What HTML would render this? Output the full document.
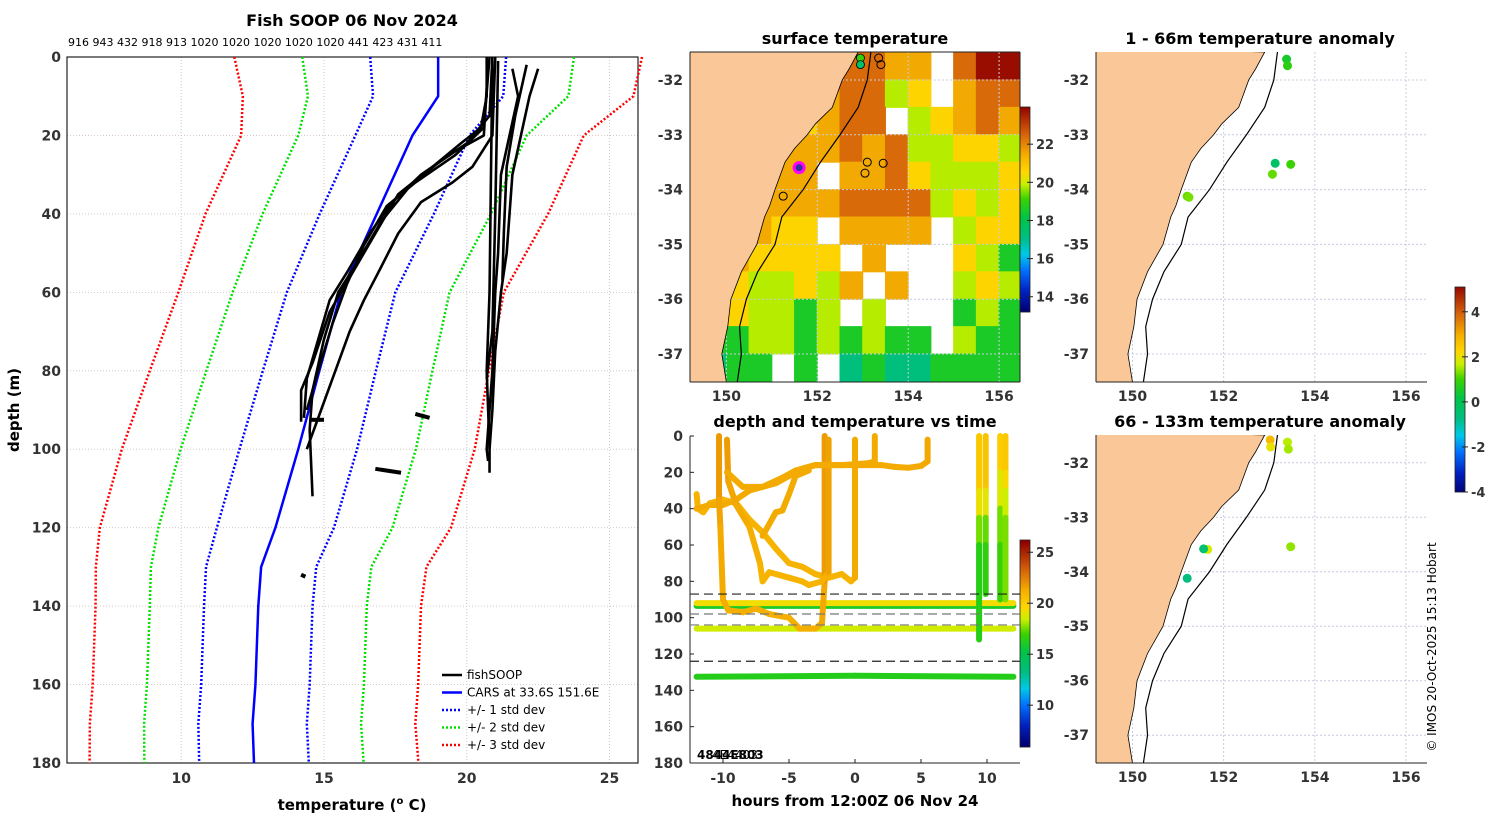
<!DOCTYPE html>
<html><head><meta charset="utf-8"><style>
html,body{margin:0;padding:0;background:#fff;}
svg{display:block;font-family:"DejaVu Sans","Liberation Sans",sans-serif;}
</style></head><body>
<svg id="root" width="1500" height="820" viewBox="0 0 1500 820" xmlns="http://www.w3.org/2000/svg">
<text x="352" y="26" font-size="16" font-weight="bold" text-anchor="middle">Fish SOOP 06 Nov 2024</text>
<text x="68" y="46" font-size="11">916 943 432 918 913 1020 1020 1020 1020 1020 441 423 431 411</text>
<text x="855" y="44" font-size="16" font-weight="bold" text-anchor="middle">surface temperature</text>
<text x="1260" y="44" font-size="16" font-weight="bold" text-anchor="middle">1 - 66m temperature anomaly</text>
<text x="855" y="427" font-size="16" font-weight="bold" text-anchor="middle">depth and temperature vs time</text>
<text x="1260" y="427" font-size="16" font-weight="bold" text-anchor="middle">66 - 133m temperature anomaly</text>
<text x="352" y="810" font-size="15" font-weight="bold" text-anchor="middle">temperature (<tspan font-size="10" dy="-6">o</tspan><tspan dy="6"> C)</tspan></text>
<text transform="translate(19,410) rotate(-90)" font-size="15" font-weight="bold" text-anchor="middle">depth (m)</text>
<text x="855" y="806" font-size="15" font-weight="bold" text-anchor="middle">hours from 12:00Z 06 Nov 24</text>
<text transform="translate(1436,647) rotate(-90)" font-size="12" text-anchor="middle">© IMOS 20-Oct-2025 15:13 Hobart</text>
</svg>
<script>
// ---------- data ----------
const carsDepth=[0,10,20,40,60,80,100,120,130,140,160,170,180];
const carsMean=[19.0,19.0,18.1,16.85,15.6,14.84,14.1,13.3,12.8,12.7,12.6,12.5,12.55];
const carsStd=[2.38,2.28,2.0,2.0,1.9,1.98,2.06,2.05,1.93,1.9,1.9,1.9,1.92];
const stdMultipliers=[1,2,3];
const profiles=[
[[20.7,0],[20.7,10],[20.5,18],[19.8,22],[18.8,28],[17.6,35],[16.8,45],[16.0,55],[15.2,65],[14.6,78],[14.2,85],[14.2,93]],
[[20.9,0],[20.8,15],[20.0,22],[19.0,27],[18.0,33],[17.0,42],[16.2,52],[15.5,60],[15.0,72],[14.6,85],[14.5,95],[14.6,112]],
[[20.8,0],[20.6,18],[19.6,25],[18.2,32],[17.2,38],[16.4,48],[15.8,58],[15.3,68],[14.8,80],[14.4,90]],
[[21.0,0],[20.9,20],[20.2,28],[19.5,32],[18.4,37],[17.6,45],[16.9,55],[16.4,62],[15.9,70],[15.4,80],[14.9,90],[14.4,100]],
[[20.75,2],[20.6,20],[19.6,24],[18.4,30],[17.4,37],[16.6,45],[15.8,55],[15.2,62],[14.8,72],[14.4,82],[14.3,92]],
[[20.9,1],[20.85,30],[20.8,60],[20.7,80],[20.8,100],[20.8,106]],
[[21.1,1],[21.0,40],[20.9,70],[20.7,82]],
[[21.6,3],[21.8,10],[21.5,20],[21.2,30],[21.1,50],[21.0,60],[20.9,80],[20.7,100],[20.75,103]],
[[22.5,3],[22.2,10],[21.9,20],[21.6,30],[21.5,40],[21.4,50],[21.2,60],[21.0,75],[20.9,90],[20.8,100]],
[[22.1,2],[21.7,15],[21.4,28],[21.3,45],[21.25,57]],
[[18.2,91],[18.7,92]],[[16.8,105],[17.7,106]],[[14.5,92.5],[15.0,92.5]],[[14.2,132],[14.35,132.5]]
];
const depthTicks=[0,20,40,60,80,100,120,140,160,180];
const tempTicks=[10,15,20,25];
// depth-time tracks: [hour, depth, temp]
const tracks=[
[[-12,93.5,16],[12,93.5,16]],
[[-12,92,19.3],[12,92,19.3]],
[[-12,106,18.6],[12,106,18.6]],
[[-12,132.5,16.3],[0,132,16.3],[12,132.5,16.3]],
[[-12,32,21],[-11.9,40,21],[-11.5,42,21],[-11,37,21],[-10,35,21],[-9,37,21],[-8,46,21],[-7,53,21],[-6,62,21],[-5,70,21],[-4,72,21],[-3,76,21],[-2,78,21],[-1,76,21],[-0.3,80,21],[0,78,21],[0,2,21.6]],
[[-12,40,21.3],[-11,38,21.3],[-10,38,21.3],[-9,35,21.3],[-8,30,21.3],[-7,28,21.3],[-6,26,21.3],[-5,22,21.3],[-4,18,21.3],[-3,16,21.3],[-1,16,21.3],[1,15,21.3],[1.5,14,21.3],[1.5,0,21.3]],
[[-10.3,0,21.9],[-10.3,35,21.7],[-10.2,50,21.3],[-10,90,21.3],[-9.6,96,21.2],[-8.5,97,21.2],[-7.5,95,21.2],[-6.5,98,21.2],[-5,100,21.2],[-4.2,106,21.2],[-3,106,21.2],[-2.5,103,21.2],[-2.3,80,21.5],[-2.3,0,22]],
[[-9.7,2,21.8],[-9.6,25,21.6],[-9.0,38,21.3],[-8,50,21.3],[-7.2,70,21.1],[-7,80,21],[-6.5,75,21],[-5,78,21],[-4,80,21],[-3.5,82,21],[-2.5,80,21],[-2,75,21.3],[-2,2,21.8]],
[[-9.7,20,21.3],[-8.5,28,21.3],[-7,28,21.3],[-5.5,23,21.3],[-4.5,19,21.3],[-3,16,21.3],[0,16,21.3],[2,16,21.3],[3,17,21.3],[4,17.5,21.3],[5,16.5,21.3],[5.5,14,21.3],[5.5,2,21.5]],
[[-7,55,21.3],[-6,42,21.3],[-5.5,41,21.3],[-5,32,21.3],[-4.5,22,21.3],[-3.5,19,21.3]],
[[9.4,0,20.6],[9.4,30,19.8],[9.4,45,18.5],[9.4,60,16.6],[9.4,112,16.2]],
[[9.9,0,20.8],[9.9,30,20],[9.9,45,18],[9.9,60,16.8],[9.9,87,16.5]],
[[11,0,20.4],[11,20,19.6],[11,40,18],[11,60,17],[11,90,16.6]],
[[11.4,0,20.4],[11.4,20,20],[11.4,30,19],[11.4,45,18],[11.4,90,17.2]]
];
const hourTicks=[-10,-5,0,5,10];
const dashDepths=[87,98,104,124];
// SST coarse grid, rows lat -31.5.. step 0.5, cols lon 149.0.. step 0.5
const sstRows=["yyyyyyyOOoowORR","yyyyyooOOgywoOO","yyyyyyoOOwgyoOo","yyyyoooOoOggyyg","yyyooowooOygggy","yyoooooOOOOgygy","yyyoyywoooowgyy","yyoyyyywowwwygG","yGyggygowowwgyg","yGyggGgwgwwwGgG","yGGggGgGgGGwgGG","ycGGwGwcGccGGGG"];
const sstCode={R:23.8,O:22.4,o:21.5,y:20.6,g:19.8,G:18.6,c:17.2};
const coast=[[152.9,-31.49],[152.7,-31.8],[152.55,-32],[152.33,-32.5],[151.96,-32.8],[151.78,-33],[151.5,-33.25],[151.29,-33.5],[151.07,-34],[150.95,-34.3],[150.84,-34.5],[150.67,-35],[150.33,-35.5],[150.1,-36],[150.03,-36.5],[149.9,-37],[150.0,-37.51]];
const shelf=[[153.18,-31.49],[153.1,-32],[152.9,-32.5],[152.5,-33],[152.07,-33.5],[151.69,-34],[151.22,-34.5],[151.07,-35],[150.69,-35.5],[150.44,-36],[150.29,-36.5],[150.33,-37],[150.24,-37.51]];
const sstStations=[[152.95,-31.6,19],[152.95,-31.72,17.5]];
const openStations=[[153.35,-31.6],[153.4,-31.72],[153.1,-33.5],[153.45,-33.52],[153.05,-33.7],[151.25,-34.12]];
const shipPos=[151.6,-33.6];
const shallowAnom=[[153.38,-31.62,0.5],[153.4,-31.74,0.8],[153.13,-33.52,-0.3],[153.47,-33.54,1.0],[153.07,-33.72,1.2],[151.2,-34.12,1.2],[151.24,-34.14,1.3]];
const deepAnom=[[153.02,-31.58,2.8],[153.03,-31.71,2.0],[153.4,-31.62,1.6],[153.42,-31.75,1.5],[151.65,-33.59,1.8],[151.56,-33.58,-0.5],[151.2,-34.12,-0.7],[153.47,-33.54,1.4]];
const lonTicks=[150,152,154,156];
const latTicks=[-32,-33,-34,-35,-36,-37];
const sstBarTicks=[22,20,18,16,14];
const tBarTicks=[25,20,15,10];
const anomBarTicks=[4,2,0,-2,-4];

// ---------- helpers ----------
const NS="http://www.w3.org/2000/svg";
const root=document.getElementById('root');
function mk(tag,attrs,parent){const e=document.createElementNS(NS,tag);for(const k in attrs)e.setAttribute(k,attrs[k]);(parent||root).appendChild(e);return e;}
const stops=[[0,[0,0,112]],[0.1,[0,32,192]],[0.2,[0,112,255]],[0.28,[0,200,232]],[0.36,[0,190,130]],[0.46,[0,196,70]],[0.55,[60,210,0]],[0.62,[200,240,0]],[0.68,[255,215,0]],[0.76,[245,175,0]],[0.86,[215,100,10]],[1,[144,0,0]]];
function cmap(t){t=Math.max(0,Math.min(1,t));for(let i=1;i<stops.length;i++){if(t<=stops[i][0]){const a=stops[i-1],b=stops[i];const f=(t-a[0])/(b[0]-a[0]);const c=a[1].map((v,j)=>Math.round(v+(b[1][j]-v)*f));return `rgb(${c[0]},${c[1]},${c[2]})`;}}return 'rgb(144,0,0)';}
const sstColor=v=>cmap((v-13.2)/10.8);
const tColor=v=>cmap((v-6)/20);
const aColor=v=>cmap((v+4.1)/9.3);

// ---------- left profile panel ----------
const L={x0:67,x1:638,y0:57,y1:763,tmin:6,tmax:26,dmax:180};
const px=t=>L.x0+(t-L.tmin)/(L.tmax-L.tmin)*(L.x1-L.x0);
const py=d=>L.y0+d/L.dmax*(L.y1-L.y0);
const gLeft=mk('g',{});


tempTicks.forEach(t=>{const l=mk('line',{x1:px(t),x2:px(t),y1:L.y0,y2:L.y1,stroke:'#c4c8e0','stroke-dasharray':'1,2','stroke-width':1},gLeft);


const tk=mk('text',{x:px(t),y:783,'font-size':14,'font-weight':'bold','text-anchor':'middle',fill:'#333'},gLeft);tk.textContent=t;

});
depthTicks.forEach(d=>{if(d>0&&d<180){const l=mk('line',{x1:L.x0,x2:L.x1,y1:py(d),y2:py(d),stroke:'#d8c8c0','stroke-dasharray':'1,2','stroke-width':1},gLeft);

}
const tk=mk('text',{x:61,y:py(d)+5,'font-size':14,'font-weight':'bold','text-anchor':'end',fill:'#333'},gLeft);tk.textContent=d;

});
const frame=mk('rect',{x:L.x0,y:L.y0,width:L.x1-L.x0,height:L.y1-L.y0,fill:'none',stroke:'#222','stroke-width':1.2},gLeft);


const bandCols=['#0000ff','#00e000','#ff0000'];
stdMultipliers.forEach((k,i)=>{[-1,1].forEach(s=>{const pts=carsDepth.map((d,j)=>px(carsMean[j]+s*k*carsStd[j])+','+py(d)).join(' ');
const pl=mk('polyline',{points:pts,fill:'none',stroke:bandCols[i],'stroke-width':2.5,'stroke-dasharray':'2,2'},gLeft);

});});
const carsLine=mk('polyline',{points:carsDepth.map((d,j)=>px(carsMean[j])+','+py(d)).join(' '),fill:'none',stroke:'#0000ff','stroke-width':2.5},gLeft);


profiles.forEach(p=>{const pl=mk('polyline',{points:p.map(q=>px(q[0])+','+py(q[1])).join(' '),fill:'none',stroke:'#000','stroke-width':p.length<3?4:2.6,'stroke-linejoin':'round'},gLeft);

});
const legItems=[['fishSOOP','#000',''],['CARS at 33.6S 151.6E','#0000ff',''],['+/- 1 std dev','#0000ff','2,2'],['+/- 2 std dev','#00e000','2,2'],['+/- 3 std dev','#ff0000','2,2']];
legItems.forEach((it,i)=>{const y=675+i*17.5;const g=mk('g',{},gLeft);


const a={x1:442,x2:462,y1:y,y2:y,stroke:it[1],'stroke-width':2.5};if(it[2])a['stroke-dasharray']=it[2];mk('line',a,g);
const t=mk('text',{x:467,y:y+4,'font-size':12},g);t.textContent=it[0];});

// ---------- map helper ----------
function mapPanel(name,x0,x1,y0,y1){
 const M={x0,x1,y0,y1,lon0:149.2,lon1:156.46,lat0:-31.49,lat1:-37.51};
 M.X=lon=>x0+(lon-M.lon0)/(M.lon1-M.lon0)*(x1-x0);
 M.Y=lat=>y0+(lat-M.lat0)/(M.lat1-M.lat0)*(y1-y0);
 const g=mk('g',{});
 
 
 const cid='clip-'+name;const cp=mk('clipPath',{id:cid},g);mk('rect',{x:x0,y:y0,width:x1-x0,height:y1-y0},cp);
 M.g=mk('g',{'clip-path':`url(#${cid})`},g);M.outer=g;return M;}
function drawGeo(M){
 lonTicks.forEach(l=>{const gl=mk('line',{x1:M.X(l),x2:M.X(l),y1:M.y0,y2:M.y1,stroke:'#c8cce0','stroke-dasharray':'2,2'},M.g);
 
 });
 latTicks.forEach(l=>{const gl=mk('line',{x1:M.x0,x2:M.x1,y1:M.Y(l),y2:M.Y(l),stroke:'#c8cce0','stroke-dasharray':'2,2'},M.g);
 
 });
 const landPts=coast.map(c=>M.X(c[0])+','+M.Y(c[1])).join(' ')+` ${M.x0-5},${M.y1+5} ${M.x0-5},${M.y0-5}`;
 const land=mk('polygon',{points:landPts,fill:'#fac898',stroke:'#000','stroke-width':0.8},M.g);
 
 
 const sh=mk('polyline',{points:shelf.map(c=>M.X(c[0])+','+M.Y(c[1])).join(' '),fill:'none',stroke:'#000','stroke-width':1.2},M.g);
 
 }
function axesLabels(M,showX){
 const g=M.outer;
 mk('line',{x1:M.x0,x2:M.x0,y1:M.y0,y2:M.y1,stroke:'#222'},g);mk('line',{x1:M.x0,x2:M.x1,y1:M.y1,y2:M.y1,stroke:'#222'},g);
 latTicks.forEach(l=>{const t=mk('text',{x:M.x0-7,y:M.Y(l)+5,'font-size':14,'font-weight':'bold','text-anchor':'end',fill:'#333'},g);t.textContent=l;
 
 });
 if(showX)lonTicks.forEach(l=>{const t=mk('text',{x:M.X(l),y:M.y1+19,'font-size':14,'font-weight':'bold','text-anchor':'middle',fill:'#333'},g);t.textContent=l;
 
 });}

// ---------- SST map ----------
const S=mapPanel('sst-map',690,1020,52,382);
sstRows.forEach((row,r)=>{for(let c=0;c<row.length;c++){const ch=row[c];if(ch==='w')continue;const lon=149+c*0.5,lat=-31.5-r*0.5;
 const rc=mk('rect',{x:S.X(lon)-0.5,y:S.Y(lat)-0.5,width:S.X(lon+0.5)-S.X(lon)+1,height:S.Y(lat-0.5)-S.Y(lat)+1,fill:sstColor(sstCode[ch])},S.g);
 
 }});
drawGeo(S);
sstStations.forEach(s=>{const c=mk('circle',{cx:S.X(s[0]),cy:S.Y(s[1]),r:4,fill:sstColor(s[2]),stroke:'#000','stroke-width':0.8},S.g);

});
openStations.forEach(s=>{const c=mk('circle',{cx:S.X(s[0]),cy:S.Y(s[1]),r:4,fill:'none',stroke:'#000','stroke-width':1},S.g);

});
const ship=mk('circle',{cx:S.X(shipPos[0]),cy:S.Y(shipPos[1]),r:5,fill:'#3030a0',stroke:'#ff00ff','stroke-width':3},S.g);


axesLabels(S,true);
mk('line',{x1:S.x0,x2:S.x1,y1:S.y0,y2:S.y0,stroke:'#222'},S.outer);mk('line',{x1:S.x1,x2:S.x1,y1:S.y0,y2:S.y1,stroke:'#222'},S.outer);

// ---------- colorbars ----------
function colorbar(name,x,yTop,yBot,vTop,vBot,ticks,colorFn){
 const g=mk('g',{});
 
 
 for(let y=yTop;y<yBot;y++){const v=vTop+(y-yTop+0.5)/(yBot-yTop)*(vBot-vTop);mk('rect',{x:x,y:y,width:10,height:1.2,fill:colorFn(v)},g);}
 mk('rect',{x:x,y:yTop,width:10,height:yBot-yTop,fill:'none',stroke:'#222','stroke-width':0.8},g);
 ticks.forEach(t=>{const y=yTop+(t-vTop)/(vBot-vTop)*(yBot-yTop);mk('line',{x1:x+7,x2:x+10,y1:y,y2:y,stroke:'#222'},g);mk('line',{x1:x+10,x2:x+13,y1:y,y2:y,stroke:'#222'},g);
 const tx=mk('text',{x:x+16,y:y+5,'font-size':13,'font-weight':'bold',fill:'#333'},g);tx.textContent=t;
 
 });}
colorbar('sst-colorbar',1020,107,312,23.95,13.2,sstBarTicks,sstColor);
colorbar('temperature-colorbar',1020,540,747,26.2,5.9,tBarTicks,tColor);
colorbar('anomaly-colorbar',1455,287,492,5.1,-4.0,anomBarTicks,aColor);

// ---------- depth vs time ----------
const D={x0:690,x1:1020,y0:436,y1:763,h0:-12.5,h1:12.5};
const hx=h=>D.x0+(h-D.h0)/(D.h1-D.h0)*(D.x1-D.x0);
const dy=d=>D.y0+d/180*(D.y1-D.y0);
const gD=mk('g',{});


mk('line',{x1:D.x0,x2:D.x0,y1:D.y0,y2:D.y1,stroke:'#222'},gD);mk('line',{x1:D.x0,x2:D.x1,y1:D.y1,y2:D.y1,stroke:'#222'},gD);
depthTicks.forEach(d=>{mk('line',{x1:D.x0,x2:D.x0+4,y1:dy(d),y2:dy(d),stroke:'#222'},gD);
const t=mk('text',{x:683,y:dy(d)+5,'font-size':14,'font-weight':'bold','text-anchor':'end',fill:'#333'},gD);t.textContent=d;

});
hourTicks.forEach(h=>{mk('line',{x1:hx(h),x2:hx(h),y1:D.y1,y2:D.y1-4,stroke:'#222'},gD);
const t=mk('text',{x:hx(h),y:783,'font-size':14,'font-weight':'bold','text-anchor':'middle',fill:'#333'},gD);t.textContent=h;

});
tracks.forEach(tr=>{for(let i=1;i<tr.length;i++){const a=tr[i-1],b=tr[i];
 const s=mk('line',{x1:hx(a[0]),y1:dy(a[1]),x2:hx(b[0]),y2:dy(b[1]),stroke:tColor((a[2]+b[2])/2),'stroke-width':6,'stroke-linecap':'round'},gD);
 
 }});
dashDepths.forEach((d,i)=>{const l=mk('line',{x1:D.x0,x2:D.x1,y1:dy(d),y2:dy(d),stroke:(i===1||i===2)?'#777':'#222','stroke-width':1.2,'stroke-dasharray':'9,5'},gD);

});
const idt=mk('text',{x:697,y:759,'font-size':12,'font-weight':'bold'},gD);idt.textContent='4844E803';


const idt2=mk('text',{x:712,y:759,'font-size':12},gD);idt2.textContent='4E4403';



// ---------- anomaly maps ----------
[['shallow-anomaly-map',52,382,shallowAnom],['deep-anomaly-map',435,763,deepAnom]].forEach(cfg=>{
 const M=mapPanel(cfg[0],1096,1427,cfg[1],cfg[2]);
 drawGeo(M);
 cfg[3].forEach(a=>{const c=mk('circle',{cx:M.X(a[0]),cy:M.Y(a[1]),r:4.5,fill:aColor(a[2])},M.g);
 
 });
 axesLabels(M,true);
});
</script>
</body></html>
